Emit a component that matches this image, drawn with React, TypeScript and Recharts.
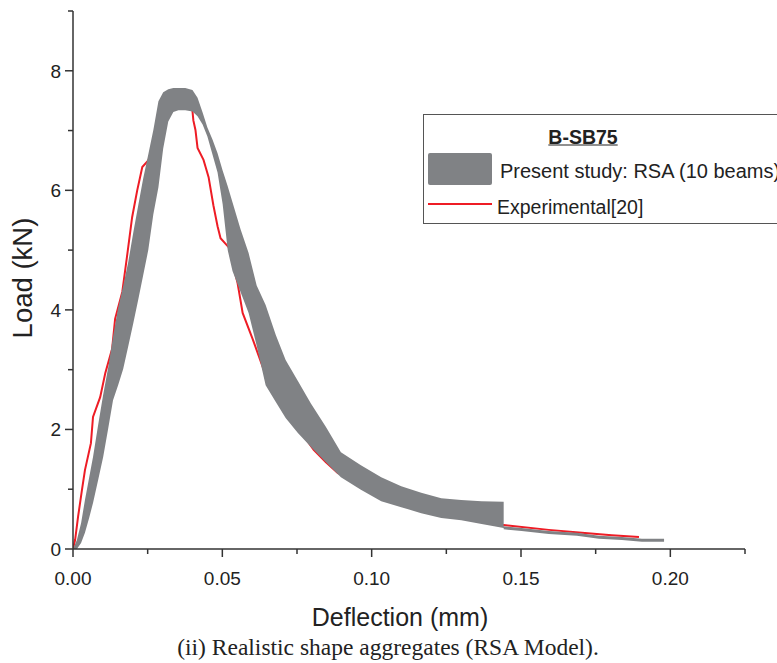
import { ComposedChart, Area, Line, XAxis, YAxis } from "recharts";

// RSA band (10 beams): deflection with lower / upper load envelope
const bandX = [
  0, 0.0013, 0.0027, 0.004, 0.0054, 0.0067, 0.0084, 0.0101, 0.0118, 0.0134, 0.0151, 0.0168, 0.0185, 0.0202,
  0.0218, 0.0235, 0.0252, 0.0269, 0.0286, 0.0302, 0.0319, 0.0336, 0.0353, 0.0376, 0.04, 0.0417, 0.0434, 0.045,
  0.0467, 0.0484, 0.0501, 0.0518, 0.0534, 0.0561, 0.0588, 0.0615, 0.0645, 0.0679, 0.0712, 0.0753, 0.0796,
  0.0847, 0.0897, 0.0964, 0.1032, 0.1099, 0.1166, 0.1233, 0.13, 0.1368, 0.1442, 0.1442, 0.1502, 0.1593,
  0.1687, 0.1761, 0.1838, 0.1905, 0.1979,
];
const bandHigh = [
  0, 0.15, 0.43, 0.82, 1.19, 1.54, 2.07, 2.58, 3.04, 3.55, 4.03, 4.4, 4.8, 5.3, 5.74, 6.2, 6.6, 7.01, 7.49,
  7.64, 7.69, 7.71, 7.71, 7.71, 7.68, 7.55, 7.3, 7.05, 6.85, 6.62, 6.33, 6.07, 5.8, 5.35, 4.95, 4.41, 4.08,
  3.58, 3.16, 2.81, 2.44, 2.04, 1.62, 1.4, 1.2, 1.05, 0.94, 0.85, 0.82, 0.8, 0.79, 0.38, 0.35, 0.3, 0.27,
  0.22, 0.2, 0.17, 0.17,
];
const bandLow = [
  0, 0, 0.1, 0.27, 0.52, 0.77, 1.15, 1.54, 2.02, 2.49, 2.74, 3.01, 3.39, 3.78, 4.16, 4.58, 5.0, 5.6, 6.05,
  6.7, 7.15, 7.31, 7.34, 7.34, 7.32, 7.24, 7.1, 6.9, 6.6, 6.3, 5.77, 5.0, 4.65, 4.3, 3.95, 3.4, 2.74,
  2.46, 2.19, 1.94, 1.71, 1.45, 1.2, 0.99, 0.8, 0.7, 0.6, 0.52, 0.48, 0.42, 0.35, 0.33, 0.3, 0.25, 0.22,
  0.17, 0.15, 0.12, 0.12,
];

// Experimental[20]
const expX = [
  0, 0.0007, 0.0017, 0.003, 0.004, 0.006, 0.0067, 0.0091, 0.0108, 0.0131, 0.0141, 0.0165, 0.0181, 0.0198,
  0.0215, 0.0232, 0.0252, 0.0286, 0.0326, 0.0376, 0.04, 0.0403, 0.041, 0.0417, 0.0437, 0.0444, 0.0454, 0.047,
  0.0484, 0.0494, 0.0521, 0.0551, 0.0568, 0.0601, 0.0645, 0.0712, 0.0763, 0.0806, 0.0847, 0.0887, 0.1032,
  0.1233, 0.1442, 0.1593, 0.1704, 0.1804, 0.1895,
];
const expLoad = [
  0, 0.15, 0.54, 0.99, 1.32, 1.77, 2.21, 2.54, 2.94, 3.35, 3.85, 4.3, 4.9, 5.55, 6.0, 6.39, 6.5, 6.9, 7.35,
  7.45, 7.33, 7.17, 7.01, 6.71, 6.51, 6.39, 6.22, 5.75, 5.4, 5.2, 5.05, 4.45, 3.95, 3.52, 2.91, 2.41, 1.96,
  1.66, 1.45, 1.27, 0.99, 0.69, 0.4, 0.32, 0.27, 0.23, 0.2,
];

const xTicks = [0, 0.025, 0.05, 0.075, 0.1, 0.125, 0.15, 0.175, 0.2, 0.225];
const yTicks = [0, 1, 2, 3, 4, 5, 6, 7, 8, 9];

const bandData = bandX.map((x, i) => ({ x, range: [bandLow[i], bandHigh[i]] }));
const expData = expX.map((x, i) => ({ x, load: expLoad[i] }));

const SANS = '"Liberation Sans", Arial, sans-serif';
const AXIS = "#333";
const GRAY = "#808285";
const RED = "#ee1c25";

function XTick({ x, y, payload }: any) {
  const v = payload.value;
  const major = Math.round(v * 1000) % 50 === 0;
  return (
    <g>
      <line x1={x} x2={x} y1={y} y2={y + (major ? 8 : 5)} stroke={AXIS} strokeWidth={1.5} />
      {major && (
        <text x={x} y={y + 36} textAnchor="middle" fontSize={19} fill="#222" fontFamily={SANS}>
          {v.toFixed(2)}
        </text>
      )}
    </g>
  );
}

function YTick({ x, y, payload }: any) {
  const v = payload.value;
  const major = v % 2 === 0;
  return (
    <g>
      <line x1={x} x2={x - (major ? 8 : 5)} y1={y} y2={y} stroke={AXIS} strokeWidth={1.5} />
      {major && (
        <text x={x - 12} y={y + 7} textAnchor="end" fontSize={19} fill="#222" fontFamily={SANS}>
          {v}
        </text>
      )}
    </g>
  );
}

export default function App() {
  return (
    <div
      style={{
        position: "fixed",
        left: 0,
        top: 0,
        width: 777,
        height: 663,
        overflow: "hidden",
        background: "#fff",
        fontFamily: SANS,
        color: "#222",
      }}
    >
      <ComposedChart width={777} height={663} margin={{ top: 11, right: 32, bottom: 84, left: 0 }}>
        <XAxis
          type="number"
          dataKey="x"
          domain={[0, 0.225]}
          ticks={xTicks}
          interval={0}
          height={30}
          tickSize={0}
          tickMargin={0}
          tickLine={false}
          axisLine={{ stroke: AXIS, strokeWidth: 1.5 }}
          tick={<XTick />}
          allowDataOverflow
        />
        <YAxis
          type="number"
          domain={[0, 9]}
          ticks={yTicks}
          interval={0}
          width={73}
          tickSize={0}
          tickMargin={0}
          tickLine={false}
          axisLine={{ stroke: AXIS, strokeWidth: 1.5 }}
          tick={<YTick />}
          allowDataOverflow
        />
        <Line
          data={expData}
          dataKey="load"
          type="linear"
          stroke={RED}
          strokeWidth={2}
          dot={false}
          activeDot={false}
          isAnimationActive={false}
          zIndex={90}
        />
        <Area
          data={bandData}
          dataKey="range"
          type="linear"
          stroke="none"
          fill={GRAY}
          fillOpacity={1}
          dot={false}
          activeDot={false}
          isAnimationActive={false}
          zIndex={100}
        />
      </ComposedChart>

      {/* axis titles */}
      <div
        style={{
          position: "absolute",
          left: 23,
          top: 278,
          transform: "translate(-50%, -50%) rotate(-90deg)",
          fontSize: 27.5,
          whiteSpace: "nowrap",
        }}
      >
        Load (kN)
      </div>
      <div
        style={{
          position: "absolute",
          left: 400,
          top: 617,
          transform: "translate(-50%, -50%)",
          fontSize: 25,
          whiteSpace: "nowrap",
        }}
      >
        Deflection (mm)
      </div>
      <div
        style={{
          position: "absolute",
          left: 388,
          top: 647,
          transform: "translate(-50%, -50%)",
          fontSize: 23.5,
          fontFamily: '"Liberation Serif", "DejaVu Serif", serif',
          whiteSpace: "nowrap",
        }}
      >
        (ii) Realistic shape aggregates (RSA Model).
      </div>

      {/* legend */}
      <div
        style={{
          position: "absolute",
          left: 423,
          top: 114,
          width: 400,
          height: 108,
          border: "1px solid #555",
          background: "#fff",
        }}
      >
        <div
          style={{
            position: "absolute",
            left: 159,
            top: 22,
            transform: "translate(-50%, -50%)",
            fontSize: 19.5,
            fontWeight: "bold",
            textDecoration: "underline",
            whiteSpace: "nowrap",
          }}
        >
          B-SB75
        </div>
        <div
          style={{
            position: "absolute",
            left: 4,
            top: 38,
            width: 64,
            height: 32,
            background: GRAY,
            borderRadius: 2,
          }}
        />
        <div style={{ position: "absolute", left: 76, top: 56, transform: "translateY(-50%)", fontSize: 20, whiteSpace: "nowrap" }}>
          Present study: RSA (10 beams)
        </div>
        <div style={{ position: "absolute", left: 4, top: 88, width: 64, height: 2, background: RED }} />
        <div style={{ position: "absolute", left: 73, top: 92, transform: "translateY(-50%)", fontSize: 19.5, whiteSpace: "nowrap" }}>
          Experimental[20]
        </div>
      </div>
    </div>
  );
}
